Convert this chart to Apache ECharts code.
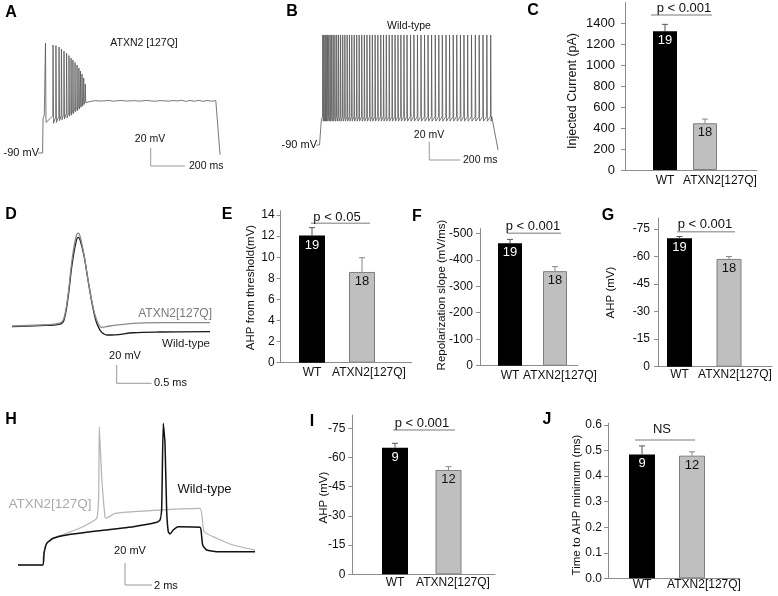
<!DOCTYPE html>
<html>
<head>
<meta charset="utf-8">
<script src="https://cdn.jsdelivr.net/npm/echarts@6/dist/echarts.min.js"></script>
<style>html,body{margin:0;padding:0;background:#fff;}#c{width:778px;height:596px;}</style>
</head>
<body>
<div id="c"></div>
<script>
// ---------------- DATA ----------------
// Panel A (ATXN2[127Q] firing, ms / mV)
const spikeTimesA  = [32, 76, 93, 111, 125, 140, 155, 169, 181, 192, 204, 216, 227, 236, 245, 255, 264];
const spikePeaksA  = [32, 30, 29.4, 27.8, 25.6, 23.3, 21.1, 18.3, 15.6, 13.3, 10.6, 7.8, 4.4, 1.1, -2.2, -6.7, -13.3];
const spikeTroughsA= [-56, -57, -56, -54, -53, -52, -51, -49, -48, -46, -44, -43, -41, -39, -38, -36, -34];
const spikeThreshA = [-48, -49, -50, -49, -48, -47, -46, -45, -43, -42, -40, -39, -37, -36, -34, -33, -32];
const plateauA = [-32, -32.5, -31.8, -32.3, -32, -31.6, -32.4, -32, -31.7, -32.3, -32.1, -31.8, -32.4, -32, -31.6, -32.2, -32.5, -31.8, -32, -32.4, -31.7, -32.2, -31.5, -32.6, -31.6, -32.5, -31.5, -32.6, -31.6, -32.4, -31.8];
const plateauStartA = 275, plateauStepA = 25;

// Panel B (wild-type firing)
const spikeTimesB = [31, 38, 46, 53, 61, 70, 79, 89, 99, 110, 122, 134, 147, 161, 175, 190, 205, 220, 236, 252, 268, 285, 302, 319, 337, 354, 372, 390, 409, 427, 445, 464, 483, 502, 521, 540, 560, 580, 603, 625, 648, 671, 694, 717, 740, 764, 787, 810, 834, 857, 881, 904, 928, 951, 975, 1000, 1025, 1050, 1075, 1100, 1125];
const peakB = 30, troughB = -64, threshB = -59;

// Panel D (single action potentials)
const tD_wt  = [0, 0.4, 0.686, 0.743, 0.8, 0.857, 0.914, 0.947, 0.971, 1.029, 1.086, 1.143, 1.2, 1.257, 1.314, 1.357, 1.471, 1.729, 2.114, 2.829];
const vD_wt  = [-61.7, -60.6, -58.9, -54.4, -30, 6.7, 32.2, 37.4, 35, 16.7, -10, -35.6, -55.6, -65.6, -70, -71.1, -70.9, -68.6, -67.8, -67.4];
const tD_mut = [0, 0.4, 0.686, 0.743, 0.8, 0.857, 0.914, 0.947, 0.971, 1.029, 1.086, 1.143, 1.2, 1.281, 1.4, 1.729, 2.114, 2.829];
const vD_mut = [-61.1, -60, -57.8, -52.2, -26.7, 12.2, 37.8, 42, 38.9, 17.8, -10, -34.4, -52.2, -62.6, -61.1, -58.1, -57.4, -57.4];

// Panel H (first spike on current step)
const tH_mut = [0, 1.83, 1.87, 2.10, 2.59, 3.59, 4.81, 5.83, 5.98, 6.02, 6.20, 6.44, 6.52, 7.19, 9.78, 13.48, 13.78, 14.72, 15.93, 17.56];
const vH_mut = [-70, -70, -62.5, -50.3, -45.7, -41.2, -35.2, -27.5, -4.8, 55.7, 10.3, -26.1, -27.5, -23, -20.5, -18.5, -39.7, -45.7, -51.8, -56.4];
const tH_wt  = [0, 1.83, 1.93, 2.13, 2.61, 3.61, 6.07, 8.54, 10.27, 10.52, 10.64, 10.76, 10.89, 11.01, 11.13, 11.26, 11.5, 11.87, 13.48, 13.56, 13.68, 13.98, 14.72, 17.56];
const vH_wt  = [-70, -70, -59.1, -50.3, -45.7, -42.7, -38.8, -35.2, -31.2, -29.1, -20, 58.8, 40.6, -20, -39.7, -41.8, -38.2, -35.2, -35.7, -38.2, -51.8, -56.4, -57.9, -57.9];

// Bar panels
const groups = ['WT', 'ATXN2[127Q]'];
const meanC = [1325, 446],  errC = [65, 40],   nC = [19, 18];
const meanE = [12.05, 8.6], errE = [0.75, 1.35], nE = [19, 18];
const meanF = [-462, -357], errF = [15, 17],   nF = [19, 18];
const meanG = [-70, -58.7], errG = [0.9, 1.3], nG = [19, 18];
const meanI = [-65, -53.6], errI = [2.3, 1.7], nI = [9, 12];
const meanJ = [0.485, 0.48], errJ = [0.033, 0.015], nJ = [9, 12];
const ticksC = [0, 200, 400, 600, 800, 1000, 1200, 1400];
const ticksE = [0, 2, 4, 6, 8, 10, 12, 14];
const ticksF = [0, -100, -200, -300, -400, -500];
const ticksG = [0, -15, -30, -45, -60, -75];
const ticksI = [0, -15, -30, -45, -60, -75];
const ticksJ = [0, 0.1, 0.2, 0.3, 0.4, 0.5, 0.6];

// ---------------- BUILD ----------------
const FONT = "'Liberation Sans', Arial, Helvetica, sans-serif";
const AXIS = '#8c8c8c';
const grids = [], xAxes = [], yAxes = [], series = [], graphics = [];

function traceGrid(g) {
  const gi = grids.length;
  grids.push({left: g.x0 + (g.tmin - g.t0) * g.sx, width: (g.tmax - g.tmin) * g.sx,
              top: g.y0 - (g.vmax - g.v0) * g.sy, height: (g.vmax - g.vmin) * g.sy, outerBoundsMode: 'none'});
  xAxes.push({gridIndex: gi, type: 'value', min: g.tmin, max: g.tmax, show: false});
  yAxes.push({gridIndex: gi, type: 'value', min: g.vmin, max: g.vmax, show: false});
  return gi;
}
function traceLine(gi, pts, color, width, smooth) {
  series.push({type: 'line', xAxisIndex: gi, yAxisIndex: gi, data: pts, showSymbol: false, symbol: 'none',
    smooth: smooth || false, lineStyle: {color: color, width: width}, animation: false, silent: true});
}
function zip(t, v) { return t.map((x, i) => [x, v[i]]); }

// Trace A
(function () {
  const pts = [[-10, -90], [15, -90], [18, -52], [25, -48]];
  spikeTimesA.forEach((t, i) => {
    pts.push([t - 1.5, spikeThreshA[i]], [t, spikePeaksA[i]], [t + 3, spikeTroughsA[i]]);
  });
  plateauA.forEach((v, i) => pts.push([plateauStartA + i * plateauStepA, v]));
  pts.push([1030, -32], [1050, -92]);
  const gi = traceGrid({x0: 40, t0: 0, sx: 0.1715, tmin: -20, tmax: 1080, y0: 153, v0: -90, sy: 0.9, vmin: -100, vmax: 40});
  traceLine(gi, pts, '#555555', 0.8);
})();
// Trace B
(function () {
  const pts = [[-10, -90], [10, -90], [22, -62], [27, -60]];
  spikeTimesB.forEach(t => { pts.push([t - 1.5, threshB], [t, peakB], [t + 3, troughB]); });
  pts.push([1132, -59], [1138, -58], [1173, -95.5]);
  const gi = traceGrid({x0: 318, t0: 0, sx: 0.1535, tmin: -20, tmax: 1200, y0: 145, v0: -90, sy: 0.917, vmin: -100, vmax: 40});
  traceLine(gi, pts, '#555555', 0.8);
})();
// Trace D
(function () {
  const gi = traceGrid({x0: 12, t0: 0, sx: 70, tmin: -0.05, tmax: 2.9, y0: 325, v0: -60, sy: 0.9, vmin: -80, vmax: 50});
  traceLine(gi, zip(tD_wt, vD_wt), '#1a1a1a', 1.3, 0.35);
  traceLine(gi, zip(tD_mut, vD_mut), '#8a8a8a', 1.3, 0.35);
})();
// Trace H
(function () {
  const gi = traceGrid({x0: 18, t0: 0, sx: 13.5, tmin: -0.5, tmax: 18, y0: 565, v0: -70, sy: 1.1, vmin: -80, vmax: 65});
  traceLine(gi, zip(tH_mut, vH_mut), '#b3b3b3', 1.2, 0.15);
  traceLine(gi, zip(tH_wt, vH_wt), '#111111', 1.5, 0.15);
})();

function barPanel(p) {
  const gi = grids.length;
  const unit = p.c2 - p.c1;
  const xmin = 1 - (p.c1 - p.axisX) / unit, xmax = 2 + (p.axisEnd - p.c2) / unit;
  const neg = p.means[0] < 0;
  grids.push({left: p.axisX, top: p.y0 - p.ymax * p.ppu, width: p.axisEnd - p.axisX, height: p.ymax * p.ppu, outerBoundsMode: 'none'});
  xAxes.push({gridIndex: gi, type: 'value', min: xmin, max: xmax,
    axisLine: {show: true, onZero: false, lineStyle: {color: AXIS, width: 1}},
    axisTick: {show: false}, splitLine: {show: false},
    axisLabel: {customValues: [1, 2 + p.labelShift / unit], formatter: v => (v < 1.5 ? groups[0] : groups[1]),
      margin: p.xMargin, fontSize: 12, color: '#111', fontFamily: FONT}});
  yAxes.push({gridIndex: gi, type: 'value', min: neg ? -p.ymax : 0, max: neg ? 0 : p.ymax, inverse: neg,
    axisLine: {show: true, lineStyle: {color: AXIS, width: 1}},
    axisTick: {show: true, inside: false, length: 4, customValues: p.ticks, lineStyle: {color: AXIS}},
    splitLine: {show: false},
    axisLabel: {customValues: p.ticks, formatter: p.fmt || (v => String(v)), margin: p.yMargin,
      fontSize: p.tickFont || 12, color: '#111', fontFamily: FONT}});
  series.push({type: 'bar', xAxisIndex: gi, yAxisIndex: gi, barWidth: p.barWidth, animation: false,
    data: p.means.map((m, i) => ({value: [i + 1, m],
      itemStyle: i === 0 ? {color: '#000'} : {color: '#bfbfbf', borderColor: '#7f7f7f', borderWidth: 1},
      label: {color: i === 0 ? '#fff' : '#111'}})),
    label: {show: true, position: 'insideTop', distance: 3, fontSize: 13, fontFamily: FONT,
      formatter: prm => String(p.ns[prm.dataIndex])}});
  series.push({type: 'custom', xAxisIndex: gi, yAxisIndex: gi, animation: false, silent: true,
    encode: {x: 0, y: [1, 2]},
    data: p.means.map((m, i) => [i + 1, m, m + Math.sign(m) * p.errs[i]]),
    renderItem: (params, api) => {
      const a = api.coord([api.value(0), api.value(1)]);
      const b = api.coord([api.value(0), api.value(2)]);
      const col = params.dataIndex === 0 ? '#555' : '#888';
      return {type: 'group', children: [
        {type: 'line', shape: {x1: a[0], y1: a[1], x2: b[0], y2: b[1]}, style: {stroke: col, lineWidth: 1}},
        {type: 'line', shape: {x1: b[0] - 3, y1: b[1], x2: b[0] + 3, y2: b[1]}, style: {stroke: col, lineWidth: 1}}
      ]};
    }});
}
const negFmt = v => (v === 0 ? '0' : String(v));
barPanel({axisX: 625, axisEnd: 757, c1: 665, c2: 705, y0: 170, ppu: 0.104786, ymax: 1600, barWidth: 24,
  means: meanC, errs: errC, ns: nC, ticks: ticksC, labelShift: 15, xMargin: 5, yMargin: 10, tickFont: 13});
barPanel({axisX: 280.7, axisEnd: 411.7, c1: 312, c2: 362, y0: 362.7, ppu: 10.55, ymax: 14.4, barWidth: 26,
  means: meanE, errs: errE, ns: nE, ticks: ticksE, labelShift: 7, xMargin: 3.5, yMargin: 6});
barPanel({axisX: 480, axisEnd: 578, c1: 510, c2: 555, y0: 365.7, ppu: 0.2648, ymax: 518, barWidth: 24,
  means: meanF, errs: errF, ns: nF, ticks: ticksF, labelShift: 5, xMargin: 3.5, yMargin: 7, fmt: negFmt});
barPanel({axisX: 658, axisEnd: 772, c1: 679.5, c2: 729, y0: 366.7, ppu: 1.836, ymax: 81, barWidth: 25,
  means: meanG, errs: errG, ns: nG, ticks: ticksG, labelShift: 6, xMargin: 2, yMargin: 8, fmt: negFmt});
barPanel({axisX: 352.3, axisEnd: 495, c1: 395, c2: 448.5, y0: 574.3, ppu: 1.9467, ymax: 81.8, barWidth: 26,
  means: meanI, errs: errI, ns: nI, ticks: ticksI, labelShift: 4.5, xMargin: 2.5, yMargin: 7, fmt: negFmt});
barPanel({axisX: 608, axisEnd: 740, c1: 642, c2: 692, y0: 578.3, ppu: 255.5, ymax: 0.607, barWidth: 26,
  means: meanJ, errs: errJ, ns: nJ, ticks: ticksJ, labelShift: 12, xMargin: 0.5, yMargin: 6, fmt: v => v.toFixed(1)});

// ---------------- ANNOTATIONS ----------------
function txt(x, y, s, o) {
  o = o || {};
  const size = o.size || 12;
  const weight = o.bold ? 'bold' : 'normal';
  graphics.push({type: 'text', x: x, y: y, rotation: o.rot || 0, silent: true, z: 100,
    style: {text: s, font: weight + ' ' + size + 'px ' + FONT, fontSize: size, fontFamily: FONT, fontWeight: weight,
      fill: o.color || '#111', align: o.align || 'center', verticalAlign: 'middle'}});
}
function pline(points, color, w) {
  graphics.push({type: 'polyline', silent: true, z: 100, shape: {points: points},
    style: {stroke: color, lineWidth: w || 1, fill: null}});
}
// panel letters
[['A', 11, 13], ['B', 292, 12], ['C', 533, 11], ['D', 11, 215], ['E', 227, 215], ['F', 417, 217],
 ['G', 608, 216], ['H', 11, 420], ['I', 312, 422], ['J', 547, 420]].forEach(l => txt(l[1], l[2], l[0], {size: 16, bold: true, color: '#000'}));

// A annotations
txt(144, 43, 'ATXN2 [127Q]', {size: 10.5});
txt(39, 153, '-90 mV', {size: 11, align: 'right'});
pline([[150.7, 148], [150.7, 166], [185, 166]], '#999', 1);
txt(150, 139, '20 mV', {size: 10.5});
txt(189, 166.5, '200 ms', {size: 10.5, align: 'left'});
// B annotations
txt(409, 26, 'Wild-type', {size: 10.5});
txt(317, 145, '-90 mV', {size: 11, align: 'right'});
pline([[429.3, 141.7], [429.3, 160], [460, 160]], '#999', 1);
txt(429, 135.5, '20 mV', {size: 10.5});
txt(463, 160.5, '200 ms', {size: 10.5, align: 'left'});
// D annotations
txt(212, 314, 'ATXN2[127Q]', {size: 12, align: 'right', color: '#7a7a7a'});
txt(210, 344, 'Wild-type', {size: 11.5, align: 'right', color: '#222'});
pline([[116.7, 365], [116.7, 383.3], [151.7, 383.3]], '#999', 1);
txt(125, 356, '20 mV', {size: 11});
txt(154, 383, '0.5 ms', {size: 11, align: 'left'});
// H annotations
txt(50, 504, 'ATXN2[127Q]', {size: 13.5, color: '#aaaaaa'});
txt(204.5, 489.5, 'Wild-type', {size: 13, color: '#111'});
pline([[125, 563], [125, 585], [152, 585]], '#999', 1);
txt(130, 551, '20 mV', {size: 11});
txt(154, 585.5, '2 ms', {size: 11, align: 'left'});

// y-axis titles
const R = Math.PI / 2;
txt(573, 91, 'Injected Current (pA)', {size: 12.5, rot: R});
txt(251, 287.5, 'AHP from threshold(mV)', {size: 11.5, rot: R});
txt(442, 295, 'Repolarization slope (mV/ms)', {size: 11.5, rot: R});
txt(611, 292.5, 'AHP (mV)', {size: 11.5, rot: R});
txt(324, 497.5, 'AHP (mV)', {size: 11.5, rot: R});
txt(577, 505, 'Time to AHP minimum (ms)', {size: 11.5, rot: R});

// significance bars
const SIG = '#a6a6a6';
pline([[651, 15], [712, 15]], SIG, 1.5);     txt(684, 8.5, 'p < 0.001', {size: 13});
pline([[311, 223.3], [370, 223.3]], SIG, 1.5); txt(337, 217, 'p < 0.05', {size: 13});
pline([[507, 233.3], [561, 233.3]], SIG, 1.5); txt(533, 226, 'p < 0.001', {size: 13});
pline([[677, 231.7], [735, 231.7]], SIG, 1.5); txt(705, 224, 'p < 0.001', {size: 13});
pline([[393, 430], [455, 430]], SIG, 1.5);     txt(422, 423, 'p < 0.001', {size: 13});
pline([[635, 440], [695, 440]], SIG, 1.5);     txt(662, 429, 'NS', {size: 13});

const chart = echarts.init(document.getElementById('c'), null, {renderer: 'canvas'});
chart.setOption({
  backgroundColor: '#ffffff',
  animation: false,
  textStyle: {fontFamily: FONT},
  grid: grids, xAxis: xAxes, yAxis: yAxes, series: series, graphic: graphics
});
</script>
</body>
</html>
